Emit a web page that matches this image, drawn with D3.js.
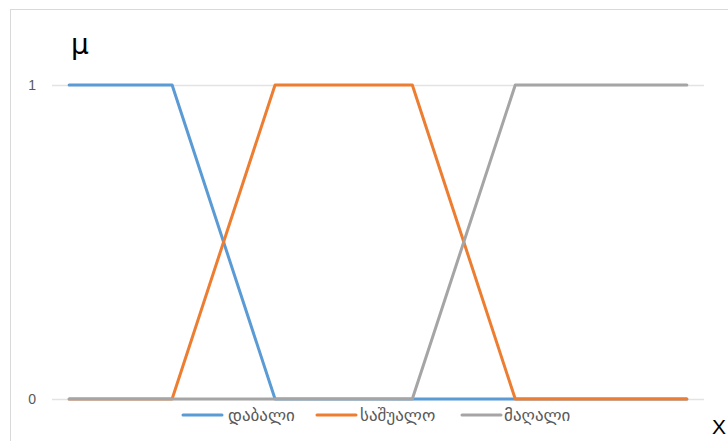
<!DOCTYPE html>
<html>
<head>
<meta charset="utf-8">
<script src="https://cdn.jsdelivr.net/npm/d3@7"></script>
<style>
  html, body { margin: 0; padding: 0; background: #fff; }
  svg { display: block; font-family: "DejaVu Sans", "Noto Sans", sans-serif; }
</style>
</head>
<body>
<svg id="chart" width="728" height="441"></svg>
<script>
// Membership breakpoints on the x axis
const xValues = [0, 3, 6, 10, 13, 18];
// Membership degrees per term
const lowValues = [1, 1, 0, 0, 0, 0];
const midValues = [0, 0, 1, 1, 0, 0];
const highValues = [0, 0, 0, 0, 1, 1];
const seriesNames = ["დაბალი", "საშუალო", "მაღალი"];
const seriesColors = ["#5B9BD5", "#ED7D31", "#A5A5A5"];
const yTicks = [0, 1];

const svg = d3.select("#chart");

// Chart frame
svg.append("rect")
  .attr("x", 10.5).attr("y", 9.5)
  .attr("width", 740).attr("height", 460)
  .attr("fill", "none").attr("stroke", "#D9D9D9").attr("stroke-width", 1);

const x = d3.scaleLinear().domain([-0.5, 18.5]).range([52, 704]);
const y = d3.scaleLinear().domain([0, 1]).range([399, 85]);

// Horizontal gridlines
svg.append("g").selectAll("line").data(yTicks).join("line")
  .attr("x1", x.range()[0]).attr("x2", x.range()[1])
  .attr("y1", d => Math.round(y(d)) + 0.5).attr("y2", d => Math.round(y(d)) + 0.5)
  .attr("stroke", "#E3E3E3").attr("stroke-width", 1.3);

// Y axis labels
const yAxis = d3.axisLeft(y).tickValues(yTicks).tickSize(0).tickPadding(0).tickFormat(d3.format("d"));
const gy = svg.append("g").attr("transform", "translate(36,0)").call(yAxis);
gy.select(".domain").remove();
gy.attr("font-size", null).attr("font-family", null);
gy.selectAll("text").attr("fill", "#595959")
  .style("font-size", "14px")
  .style("font-family", "'Liberation Sans', sans-serif");

const seriesData = [lowValues, midValues, highValues].map((vals, i) => ({
  name: seriesNames[i],
  color: seriesColors[i],
  points: xValues.map((xv, j) => ({ x: xv, y: vals[j] }))
}));

const line = d3.line().x(d => x(d.x)).y(d => y(d.y));

svg.append("g").selectAll("path").data(seriesData).join("path")
  .attr("d", d => line(d.points))
  .attr("fill", "none")
  .attr("stroke", d => d.color)
  .attr("stroke-width", 3)
  .attr("stroke-linejoin", "round")
  .attr("stroke-linecap", "round");

// Axis titles
svg.append("text").attr("x", 80).attr("y", 54)
  .attr("text-anchor", "middle").attr("font-size", 28).attr("fill", "#000")
  .text("μ");
svg.append("text").attr("x", 719).attr("y", 434)
  .attr("text-anchor", "middle").attr("font-size", 21).attr("fill", "#000")
  .attr("font-family", "'Liberation Sans', sans-serif")
  .text("X");

// Legend
const legendItems = [
  { x0: 183, tx: 228 },
  { x0: 317, tx: 360 },
  { x0: 462, tx: 504 }
];
const lg = svg.append("g");
seriesData.forEach((s, i) => {
  const it = legendItems[i];
  lg.append("line")
    .attr("x1", it.x0).attr("x2", it.x0 + 39)
    .attr("y1", 415).attr("y2", 415)
    .attr("stroke", s.color).attr("stroke-width", 3).attr("stroke-linecap", "round");
  lg.append("text")
    .attr("x", it.tx).attr("y", 421)
    .attr("font-size", 17).attr("fill", "#595959")
    .text(s.name);
});
</script>
</body>
</html>
